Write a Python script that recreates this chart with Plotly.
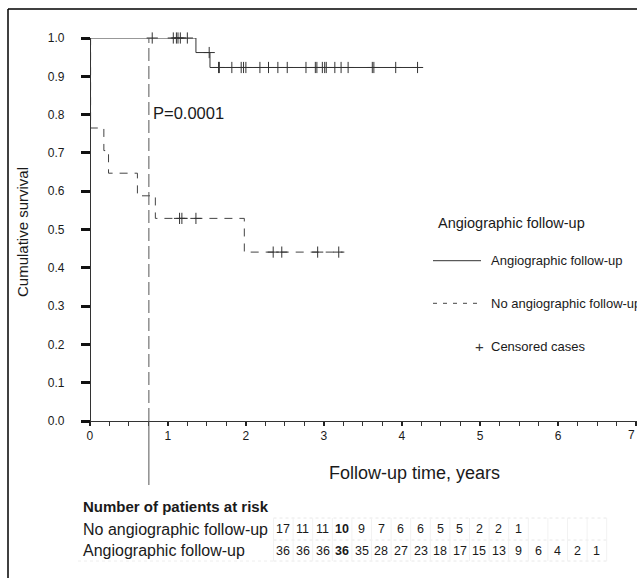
import plotly.graph_objects as go

# ---------------- data ----------------
angio_times = [0.0, 1.36, 1.54, 4.26]
angio_surv = [1.0, 0.962, 0.923, 0.923]
angio_censored = [0.80, 1.07, 1.11, 1.13, 1.16, 1.25, 1.53, 1.65, 1.66, 1.82, 1.94,
                  1.97, 2.00, 2.18, 2.29, 2.41, 2.53, 2.77, 2.89, 2.91, 2.98, 3.01,
                  3.03, 3.14, 3.22, 3.31, 3.62, 3.64, 3.92, 4.20]

noangio_times = [0.0, 0.01, 0.18, 0.24, 0.61, 0.84, 1.98, 3.24]
noangio_surv = [1.0, 0.765, 0.706, 0.647, 0.588, 0.529, 0.441, 0.441]
noangio_censored = [1.15, 1.18, 1.36, 2.35, 2.46, 2.92, 3.19]

marker_time = 0.757          # long-dashed reference line
p_value_text = "P=0.0001"

x_ticks = [0, 1, 2, 3, 4, 5, 6, 7]
x_ticktext = ["0", "1", "2", "3", "4", "5", "6", "7"]
y_ticks = [0.0, 0.1, 0.2, 0.3, 0.4, 0.5, 0.6, 0.7, 0.8, 0.9, 1.0]
y_ticktext = ["0.0", "0.1", "0.2", "0.3", "0.4", "0.5", "0.6", "0.7", "0.8", "0.9", "1.0"]

risk_rows = ["No angiographic follow-up", "Angiographic follow-up"]
risk_noangio = [17, 11, 11, 10, 9, 7, 6, 6, 5, 5, 2, 2, 1]
risk_angio = [36, 36, 36, 36, 35, 28, 27, 23, 18, 17, 15, 13, 9, 6, 4, 2, 1]
risk_bold_col = 3

# ---------------- layout geometry (pixels) ----------------
W, H = 637, 578
ML, MR, MT, MB = 82, 0, 38, 157
PW, PH = W - ML - MR, H - MT - MB
XR = [-0.1, 7.012]

def px(X):
    return (X - ML) / PW

def py(Y):
    return (H - MB - Y) / PH

def surv_at(times, surv, t):
    s = surv[0]
    for ti, si in zip(times, surv):
        if ti <= t:
            s = si
    return s

FONT = "Liberation Sans, Arial, Helvetica, sans-serif"
NARROW = "Liberation Sans Narrow, Liberation Sans, Arial, sans-serif"
INK = "#1a1a1a"

fig = go.Figure()

# survival curves
fig.add_trace(go.Scatter(x=angio_times, y=angio_surv, mode="lines", line_shape="hv",
                         line=dict(color="#333333", width=1), cliponaxis=False,
                         name="Angiographic follow-up", showlegend=False))
fig.add_trace(go.Scatter(x=noangio_times, y=noangio_surv, mode="lines", line_shape="hv",
                         line=dict(color="#444444", width=1, dash="8px,7px"), cliponaxis=False,
                         name="No angiographic follow-up", showlegend=False))

# censored marks
fig.add_trace(go.Scatter(x=angio_censored,
                         y=[surv_at(angio_times, angio_surv, t) for t in angio_censored],
                         mode="markers", cliponaxis=False, showlegend=False,
                         marker=dict(symbol="cross-thin", size=8,
                                     line=dict(color="#333333", width=1))))
fig.add_trace(go.Scatter(x=noangio_censored,
                         y=[surv_at(noangio_times, noangio_surv, t) for t in noangio_censored],
                         mode="markers", cliponaxis=False, showlegend=False,
                         marker=dict(symbol="cross-thin", size=8,
                                     line=dict(color="#333333", width=1))))

shapes = []
# long-dashed reference line (dashed inside plot, solid below the axis)
shapes.append(dict(type="line", xref="x", yref="y", x0=marker_time, x1=marker_time, y0=0, y1=1,
                   line=dict(color="#555555", width=1, dash="13px,5px")))
shapes.append(dict(type="line", xref="x", yref="paper", x0=marker_time, x1=marker_time,
                   y0=0, y1=py(485), line=dict(color="#555555", width=1)))

# outer frame
shapes.append(dict(type="line", xref="paper", yref="paper", x0=px(8), x1=px(W + 2),
                   y0=py(9), y1=py(9), line=dict(color="black", width=1.5)))
shapes.append(dict(type="line", xref="paper", yref="paper", x0=px(8), x1=px(8),
                   y0=py(9), y1=py(H + 2), line=dict(color="black", width=1.5)))

# legend lines
shapes.append(dict(type="line", xref="paper", yref="paper", x0=px(433), x1=px(481),
                   y0=py(260.7), y1=py(260.7), line=dict(color="#333333", width=1)))
shapes.append(dict(type="line", xref="paper", yref="paper", x0=px(433), x1=px(481),
                   y0=py(303.3), y1=py(303.3), line=dict(color="#444444", width=1, dash="4px,6px")))

# faint risk-table grid
col0, colw = 283.3, 19.6
ncol = max(len(risk_noangio), len(risk_angio))
gx0, gx1 = col0 - colw / 2, col0 + colw * (ncol - 0.5)
for Y in (518, 540, 561):
    shapes.append(dict(type="line", xref="paper", yref="paper", x0=px(gx0), x1=px(gx1),
                       y0=py(Y), y1=py(Y), line=dict(color="#e8e8e8", width=1, dash="dot")))
shapes.append(dict(type="line", xref="paper", yref="paper", x0=px(78), x1=px(gx0),
                   y0=py(561), y1=py(561), line=dict(color="#eeeeee", width=1, dash="dot")))
for i in range(ncol + 1):
    X = gx0 + colw * i
    shapes.append(dict(type="line", xref="paper", yref="paper", x0=px(X), x1=px(X),
                       y0=py(518), y1=py(561), line=dict(color="#f2f2f2", width=1)))

annotations = []

def txt(X, Y, text, size, xanchor="left", bold=False, family=FONT, angle=0, color=INK):
    annotations.append(dict(x=px(X), y=py(Y), xref="paper", yref="paper", text=text,
                            showarrow=False, xanchor=xanchor, yanchor="middle", textangle=angle,
                            font=dict(family=family, size=size, color=color,
                                      weight="bold" if bold else "normal")))

# last x tick label sits at the page edge: draw it as text nudged left so it stays visible
last_tick_label = x_ticktext[-1]
axis_ticktext = x_ticktext[:-1] + [""]
annotations.append(dict(x=x_ticks[-1], y=py(435), xref="x", yref="paper", text=last_tick_label,
                        showarrow=False, xanchor="center", yanchor="middle", xshift=-5,
                        font=dict(family=FONT, size=12, color=INK)))

# axis titles and p-value
txt(22, 232, "Cumulative survival", 15, xanchor="center", angle=-90)
txt(327, 473, "Follow-up time, years", 18)
txt(151, 113.3, p_value_text, 16.5)

# legend
txt(436, 222.7, "Angiographic follow-up", 14.5)
txt(489, 260.7, "Angiographic follow-up", 13)
txt(489, 303.3, "No angiographic follow-up", 13)
txt(489, 346.7, "Censored cases", 13)
txt(479, 346.7, "+", 15, xanchor="center", color="#333333")

# risk table
txt(81, 506.7, "Number of patients at risk", 15, bold=True)
txt(81, 529.3, risk_rows[0], 16)
txt(81, 550.5, risk_rows[1], 16)
for i, v in enumerate(risk_noangio):
    txt(col0 + colw * i, 529.3, str(v), 12.5, xanchor="center", bold=(i == risk_bold_col), family=NARROW)
for i, v in enumerate(risk_angio):
    txt(col0 + colw * i, 550.5, str(v), 12.5, xanchor="center", bold=(i == risk_bold_col), family=NARROW)

fig.update_layout(
    width=W, height=H,
    margin=dict(l=ML, r=MR, t=MT, b=MB, pad=0),
    paper_bgcolor="white", plot_bgcolor="white",
    showlegend=False,
    shapes=shapes, annotations=annotations,
    font=dict(family=FONT, color=INK),
    xaxis=dict(range=XR, showgrid=False, zeroline=False, showline=True,
               linecolor="#333333", linewidth=1,
               tickmode="array", tickvals=x_ticks, ticktext=axis_ticktext,
               ticks="outside", ticklen=4, tickwidth=2, tickcolor="#222222",
               tickfont=dict(size=12, family=FONT, color=INK),
               minor=dict(tick0=0, dtick=0.25, ticks="outside", ticklen=4, tickwidth=1,
                          tickcolor="#333333", showgrid=False)),
    yaxis=dict(range=[0, 1], anchor="free", position=(0 - XR[0]) / (XR[1] - XR[0]),
               showgrid=False, zeroline=False, showline=True,
               linecolor="#333333", linewidth=1,
               tickmode="array", tickvals=y_ticks, ticktext=y_ticktext,
               ticks="outside", ticklen=9, tickwidth=3, tickcolor="#111111",
               ticklabelstandoff=14,
               tickfont=dict(size=12, family=FONT, color=INK)),
)

fig.write_html("out.html")
